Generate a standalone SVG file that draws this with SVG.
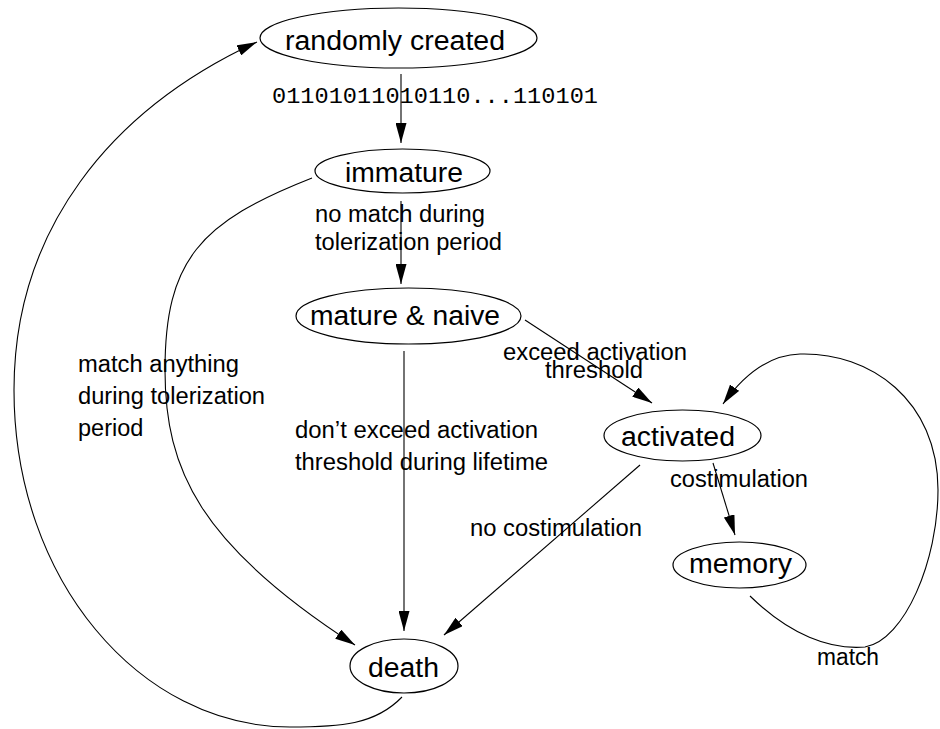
<svg xmlns="http://www.w3.org/2000/svg" width="940" height="729" viewBox="0 0 940 729">
<style>
.node ellipse{fill:none;stroke:#000;stroke-width:1.2}
.node text{font-family:"Liberation Sans",Arial,sans-serif;font-size:27px;fill:#000}
.lbl{font-family:"Liberation Sans",Arial,sans-serif;font-size:23.5px;fill:#000}
.mono{font-family:"Liberation Mono","Courier New",monospace;font-size:22px;fill:#000}
.edge{fill:none;stroke:#000;stroke-width:1.1;marker-end:url(#ah)}
</style>
<defs>
<marker id="ah" markerUnits="userSpaceOnUse" markerWidth="21" markerHeight="11" refX="20" refY="5.5" orient="auto">
<path d="M0,0 L20,5.5 L0,11 z" fill="#000"/>
</marker>
</defs>
<rect width="940" height="729" fill="#fff"/>
<g id="connectors">
<path class="edge" d="M401,74 L401,143"/>
<path class="edge" d="M401,201 L401,284"/>
<path class="edge" d="M404,351 L404,631"/>
<path class="edge" d="M525,320 L652,403"/>
<path class="edge" d="M713,463 L735,535"/>
<path class="edge" d="M640,465 L444,635"/>
<path class="edge" d="M312,178 C200,222 165,260 165,370 C165,470 200,545 355,645"/>
<path class="edge" d="M402,697 C375,725 340,727 290,727 C140,727 14,580 14,390 C14,230 110,110 257,42"/>
<path class="edge" d="M750,596 C790,635 830,650 865,647 C905,640 938,560 938,490 C938,400 870,352 800,354 C765,355 740,380 723,404"/>
<text class="mono" x="272" y="103" textLength="326" lengthAdjust="spacingAndGlyphs">01101011010110...110101</text>
<text class="lbl" x="315" y="222" textLength="170" lengthAdjust="spacingAndGlyphs">no match during</text>
<text class="lbl" x="315" y="250" textLength="187" lengthAdjust="spacingAndGlyphs">tolerization period</text>
<text class="lbl" x="503" y="360" textLength="184" lengthAdjust="spacingAndGlyphs">exceed activation</text>
<text class="lbl" x="545" y="378" textLength="98" lengthAdjust="spacingAndGlyphs">threshold</text>
<text class="lbl" x="295" y="438" textLength="243" lengthAdjust="spacingAndGlyphs">don’t exceed activation</text>
<text class="lbl" x="295" y="470" textLength="253" lengthAdjust="spacingAndGlyphs">threshold during lifetime</text>
<text class="lbl" x="78" y="372" textLength="161" lengthAdjust="spacingAndGlyphs">match anything</text>
<text class="lbl" x="78" y="404" textLength="187" lengthAdjust="spacingAndGlyphs">during tolerization</text>
<text class="lbl" x="78" y="436">period</text>
<text class="lbl" x="470" y="536" textLength="172" lengthAdjust="spacingAndGlyphs">no costimulation</text>
<text class="lbl" x="670" y="487" textLength="138" lengthAdjust="spacingAndGlyphs">costimulation</text>
<text class="lbl" x="817" y="665" textLength="62" lengthAdjust="spacingAndGlyphs">match</text>
</g>
<g id="node-randomly-created" class="node">
<ellipse cx="398.5" cy="38" rx="138.5" ry="30"/>
<text x="285" y="50" textLength="220" lengthAdjust="spacingAndGlyphs">randomly created</text>
</g>
<g id="node-immature" class="node">
<ellipse cx="402.5" cy="171" rx="87.5" ry="22"/>
<text x="345" y="182" textLength="118" lengthAdjust="spacingAndGlyphs">immature</text>
</g>
<g id="node-mature-naive" class="node">
<ellipse cx="408.5" cy="316" rx="112.5" ry="28"/>
<text x="310" y="325" textLength="190" lengthAdjust="spacingAndGlyphs">mature &amp; naive</text>
</g>
<g id="node-activated" class="node">
<ellipse cx="682.5" cy="435.5" rx="78.5" ry="25.5"/>
<text x="621" y="446" textLength="114" lengthAdjust="spacingAndGlyphs">activated</text>
</g>
<g id="node-memory" class="node">
<ellipse cx="739.5" cy="565" rx="66.5" ry="23"/>
<text x="689" y="573" textLength="103" lengthAdjust="spacingAndGlyphs">memory</text>
</g>
<g id="node-death" class="node">
<ellipse cx="404" cy="666" rx="54" ry="27"/>
<text x="368" y="677" textLength="71" lengthAdjust="spacingAndGlyphs">death</text>
</g>
</svg>
